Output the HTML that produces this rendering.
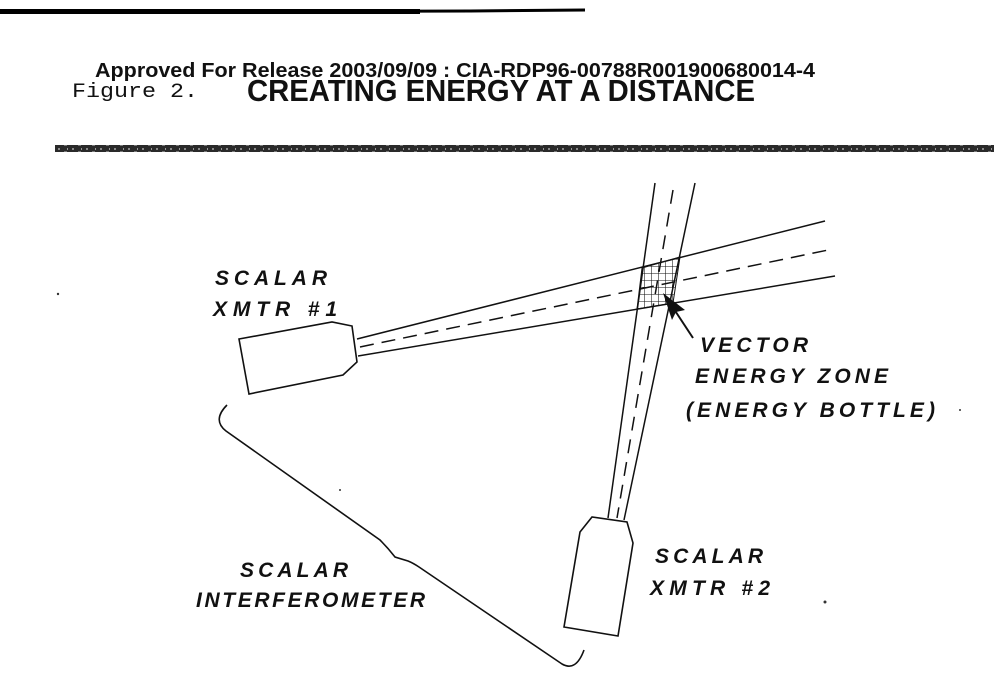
<!DOCTYPE html>
<html><head><meta charset="utf-8"><style>
html,body{margin:0;padding:0;background:#fff;}
svg{display:block;}
text{font-family:"Liberation Sans",sans-serif;fill:#111;}
.l{font-weight:bold;font-style:italic;font-size:21px;}
</style></head><body>
<svg width="994" height="698" viewBox="0 0 994 698" xmlns="http://www.w3.org/2000/svg">
<defs>
<pattern id="hatch" width="7" height="7" patternUnits="userSpaceOnUse">
<path d="M0,0 L7,0 M0,0 L0,7" stroke="#111" stroke-width="1.1"/>
</pattern>
<pattern id="band" width="14" height="7" patternUnits="userSpaceOnUse">
<rect width="14" height="7" fill="#2a2a2a"/>
<rect x="2" y="1" width="2" height="2" fill="#888"/>
<rect x="8" y="4" width="3" height="2" fill="#777"/>
<rect x="11" y="1" width="1" height="2" fill="#999"/>
</pattern>
</defs>
<path d="M0,12 L470,11 L585,10" stroke="#000" stroke-width="3" fill="none"/>
<rect x="0" y="9" width="420" height="5" fill="#000"/>
<text x="95" y="77" font-size="20" font-weight="bold" textLength="720" lengthAdjust="spacingAndGlyphs">Approved For Release 2003/09/09 : CIA-RDP96-00788R001900680014-4</text>
<text x="72" y="97" font-size="20" style="font-family:'Liberation Mono',monospace" fill="#333" textLength="126" lengthAdjust="spacingAndGlyphs">Figure 2.</text>
<text x="247" y="101" font-size="31" font-weight="bold" textLength="508" lengthAdjust="spacingAndGlyphs" fill="#222">CREATING ENERGY AT A DISTANCE</text>
<rect x="55" y="145" width="939" height="7" fill="url(#band)"/>
<polygon points="239,339 332,322 352,326 357,362 343,375 249,394" fill="none" stroke="#111" stroke-width="1.6"/>
<line x1="357" y1="339" x2="825" y2="221" stroke="#111" stroke-width="1.5"/>
<line x1="358" y1="356" x2="835" y2="276" stroke="#111" stroke-width="1.5"/>
<line x1="360" y1="347" x2="833" y2="249" stroke="#111" stroke-width="1.5" stroke-dasharray="14,8"/>
<line x1="655" y1="183" x2="608" y2="518" stroke="#111" stroke-width="1.5"/>
<line x1="695" y1="183" x2="624" y2="520" stroke="#111" stroke-width="1.5"/>
<line x1="673" y1="190" x2="617" y2="518" stroke="#111" stroke-width="1.5" stroke-dasharray="14,9"/>
<polygon points="642,268 680,257 673,303 637,309" fill="url(#hatch)" stroke="#111" stroke-width="1"/>
<line x1="693" y1="338" x2="668" y2="300" stroke="#111" stroke-width="2"/>
<polygon points="663,293 685,310 676,312 672,320" fill="#111"/>
<polygon points="580,532 592,517 627,522 633,543 618,636 564,627" fill="none" stroke="#111" stroke-width="1.6"/>
<path d="M227,405 Q212,420 226,431 L380,540 Q388,548 395,557 L408,561 Q413,563 419,567 L562,664 Q576,672 584,650" fill="none" stroke="#111" stroke-width="1.6"/>
<text class="l" x="215" y="285" textLength="112" lengthAdjust="spacing">SCALAR</text>
<text class="l" x="213" y="316" textLength="124" lengthAdjust="spacing">XMTR #1</text>
<text class="l" x="700" y="352" textLength="108" lengthAdjust="spacing">VECTOR</text>
<text class="l" x="695" y="383" textLength="193" lengthAdjust="spacing">ENERGY ZONE</text>
<text class="l" x="686" y="417" textLength="249" lengthAdjust="spacing">(ENERGY BOTTLE)</text>
<text class="l" x="655" y="563" textLength="108" lengthAdjust="spacing">SCALAR</text>
<text class="l" x="650" y="595" textLength="120" lengthAdjust="spacing">XMTR #2</text>
<text class="l" x="240" y="577" textLength="108" lengthAdjust="spacing">SCALAR</text>
<text class="l" x="196" y="607" textLength="229" lengthAdjust="spacing">INTERFEROMETER</text>
<circle cx="58" cy="294" r="1.2" fill="#333"/>
<circle cx="340" cy="490" r="1" fill="#333"/>
<circle cx="825" cy="602" r="1.5" fill="#333"/>
<circle cx="960" cy="410" r="1" fill="#333"/>
</svg>
</body></html>
